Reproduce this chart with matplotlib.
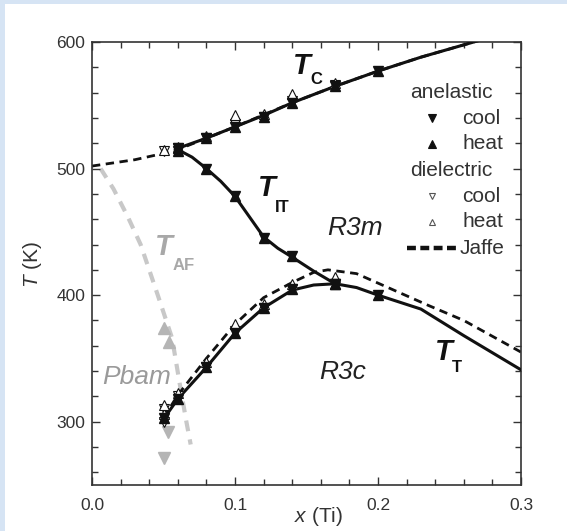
import matplotlib
matplotlib.use("Agg")
import matplotlib.pyplot as plt
from matplotlib.lines import Line2D
from matplotlib.ticker import MultipleLocator, FormatStrFormatter

plt.rcParams['font.family'] = ['Liberation Sans', 'DejaVu Sans']
plt.rcParams['mathtext.fontset'] = 'custom'
plt.rcParams['mathtext.rm'] = 'Liberation Sans'
plt.rcParams['mathtext.it'] = 'Liberation Sans:italic'
plt.rcParams['mathtext.bf'] = 'Liberation Sans:bold'

# ---- phase-boundary data, PbZr(1-x)Ti(x)O3 ----
# anelastic (cooling and heating overlap)
tc_x = [0.06, 0.08, 0.10, 0.12, 0.14, 0.17, 0.20]
tc_T = [516, 524, 533, 541, 552, 565, 577]
tit_x = [0.06, 0.08, 0.10, 0.12, 0.14, 0.17]
tit_T = [514, 500, 478, 445, 431, 409]
tt_x = [0.05, 0.06, 0.08, 0.10, 0.12, 0.14, 0.17, 0.20]
tt_T = [303, 318, 343, 370, 390, 405, 409, 400]

# dielectric, cooling / heating
diel_x = [0.05, 0.06, 0.08, 0.10, 0.12, 0.14, 0.17,
          0.05, 0.05, 0.06, 0.08, 0.10, 0.12, 0.14, 0.17]
diel_cool = [514, 516, 524, 535, 541, 553, 566,
             300, 310, 320, 343, 372, 390, 405, 409]
diel_heat = [515, 517, 526, 542, 543, 559, 568,
             306, 313, 323, 347, 377, 393, 409, 414]

# antiferroelectric transition (grey)
af_up_x = [0.050, 0.054]
af_up_T = [374, 363]
af_dn_x = [0.053, 0.050]
af_dn_T = [292, 271]

# guide lines
tc_line_x = [0.06, 0.08, 0.10, 0.12, 0.14, 0.17, 0.20, 0.23, 0.27]
tc_line_T = [516, 524, 533, 542, 552, 565, 577, 588, 601]
tit_line_x = [0.06, 0.07, 0.08, 0.09, 0.10, 0.11, 0.12, 0.13, 0.14, 0.155, 0.17]
tit_line_T = [515, 509, 500, 490, 478, 462, 446, 437, 430, 419, 409]
tt_line_x = [0.05, 0.06, 0.08, 0.10, 0.12, 0.14, 0.155, 0.17, 0.185, 0.20, 0.23, 0.26, 0.30]
tt_line_T = [302, 318, 343, 370, 390, 404, 408, 409, 406, 400, 389, 368, 341]
jaffe_hi_x = [0.0, 0.03, 0.05, 0.06, 0.10, 0.14, 0.17, 0.20, 0.23, 0.27]
jaffe_hi_T = [502, 507, 512, 515, 533, 552, 565, 577, 588, 601]
jaffe_lo_x = [0.05, 0.06, 0.08, 0.10, 0.12, 0.14, 0.155, 0.165, 0.185, 0.205, 0.235, 0.26, 0.30]
jaffe_lo_T = [303, 321, 350, 377, 398, 410, 418, 420, 417, 407, 392, 380, 355]
af_line_x = [0.006, 0.015, 0.025, 0.034, 0.046, 0.056, 0.0615, 0.066, 0.069]
af_line_T = [500, 484, 462, 440, 400, 366, 329, 300, 282]

W, H = 567, 531
fig = plt.figure(figsize=(W / 100, H / 100), dpi=100)
fig.patch.set_facecolor('#d6e4f4')

# white panel behind the plot
bg = fig.add_axes([5 / W, 0, 1 - 5 / W, 1 - 4 / H], zorder=-10)
bg.set_facecolor('white')
bg.set_xticks([]); bg.set_yticks([])
for s in bg.spines.values():
    s.set_visible(False)

ax = fig.add_axes([92 / W, 1 - 485 / H, (521 - 92) / W, (485 - 42) / H])
ax.set_facecolor('none')
ax.set_xlim(0, 0.3)
ax.set_ylim(250, 600)

black = '#111111'
text_c = '#333333'
grey_line = '#c8c8c8'
grey_mark = '#b5b5b5'

# lines
ax.plot(af_line_x, af_line_T, color=grey_line, lw=3.0, ls=(0, (2.6, 2.0)), zorder=1)
ax.plot(jaffe_hi_x, jaffe_hi_T, color=black, lw=2.0, ls=(0, (3, 2)), zorder=2)
ax.plot(jaffe_lo_x, jaffe_lo_T, color=black, lw=2.0, ls=(0, (3, 2)), zorder=2)
ax.plot(tc_line_x, tc_line_T, color=black, lw=2.2, zorder=3)
ax.plot(tit_line_x, tit_line_T, color=black, lw=2.2, zorder=3)
ax.plot(tt_line_x, tt_line_T, color=black, lw=2.2, zorder=3)

# grey AF markers
ax.plot(af_up_x, af_up_T, ls='none', marker='^', ms=8, color=grey_mark, zorder=2)
ax.plot(af_dn_x, af_dn_T, ls='none', marker='v', ms=8, color=grey_mark, zorder=2)

# dielectric (open)
ms = 7
ax.plot(diel_x, diel_cool, ls='none', marker='v', ms=ms, mfc='white', mec=black, mew=0.8, zorder=4)
ax.plot(diel_x, diel_heat, ls='none', marker='^', ms=ms, mfc='white', mec=black, mew=0.8, zorder=4)

# anelastic (filled)
for xs, ts in [(tc_x, tc_T), (tit_x, tit_T), (tt_x, tt_T)]:
    ax.plot(xs, ts, ls='none', marker='v', ms=ms, color=black, zorder=5)
    ax.plot(xs, ts, ls='none', marker='^', ms=ms, color=black, zorder=5)

# axes styling
ax.xaxis.set_major_locator(MultipleLocator(0.1))
ax.xaxis.set_minor_locator(MultipleLocator(0.02))
ax.yaxis.set_major_locator(MultipleLocator(100))
ax.yaxis.set_minor_locator(MultipleLocator(20))
ax.xaxis.set_major_formatter(FormatStrFormatter('%.1f'))
ax.tick_params(which='both', direction='in', top=True, right=True,
               color=text_c, width=1.0, labelsize=12.5, labelcolor=text_c)
ax.tick_params(which='major', length=6)
ax.tick_params(which='minor', length=4)
ax.tick_params(axis='x', which='major', pad=9)
ax.tick_params(axis='y', which='major', pad=5)
for s in ax.spines.values():
    s.set_color(text_c)
    s.set_linewidth(1.2)

fig.text(294 / W, 1 - 517 / H, r'$x$ (Ti)', fontsize=15, color=text_c,
         ha='left', va='center')
fig.text(32 / W, 1 - 264 / H, r'$T$ (K)', fontsize=15, color=text_c,
         rotation=90, ha='center', va='center')

# region and transition labels
lab = dict(color=black, fontweight='bold', style='italic')
ax.text(0.1406, 574.7, 'T', fontsize=21, **lab)
ax.text(0.153, 566.5, 'C', fontsize=12, color=black, fontweight='bold')
ax.text(0.116, 478, 'T', fontsize=21, **lab)
ax.text(0.128, 466, 'IT', fontsize=12, color=black, fontweight='bold')
ax.text(0.240, 349, 'T', fontsize=21, **lab)
ax.text(0.252, 339, 'T', fontsize=12, color=black, fontweight='bold')
ax.text(0.044, 432, 'T', fontsize=21, color='#a8a8a8', fontweight='bold', style='italic')
ax.text(0.056, 420, 'AF', fontsize=12, color='#a8a8a8', fontweight='bold')
ax.text(0.184, 453, 'R3m', fontsize=19, style='italic', color='#222222', ha='center', va='center')
ax.text(0.1755, 339.5, 'R3c', fontsize=19, style='italic', color='#222222', ha='center', va='center')
ax.text(0.031, 335.6, 'Pbam', fontsize=19, style='italic', color='#9a9a9a', ha='center', va='center')

# legend
legend_rows = [('anelastic', None), ('cool', 'v_f'), ('heat', '^_f'),
               ('dielectric', None), ('cool', 'v_o'), ('heat', '^_o'), ('Jaffe', 'dash')]
y0 = 92
for i, (txt, kind) in enumerate(legend_rows):
    yp = 1 - (y0 + 26 * i) / H
    if kind is None:
        fig.text(451 / W, yp, txt, fontsize=15, color=text_c, ha='center', va='center')
        continue
    xt = 460 if kind == 'dash' else 462
    fig.text(xt / W, yp, txt, fontsize=15, color=text_c, ha='left', va='center')
    if kind == 'dash':
        fig.add_artist(Line2D([407 / W, 457 / W], [yp, yp], color=black, lw=3.2,
                              ls=(0, (2.0, 1.0)), transform=fig.transFigure))
    else:
        m = kind[0]
        filled = kind.endswith('f')
        fig.add_artist(Line2D([432 / W], [yp], ls='none', marker=m,
                              ms=6 if filled else 4.5,
                              mfc=black if filled else 'white', mec=black if filled else '#555555',
                              mew=0.8, transform=fig.transFigure))

fig.savefig('out.png', dpi=100)
